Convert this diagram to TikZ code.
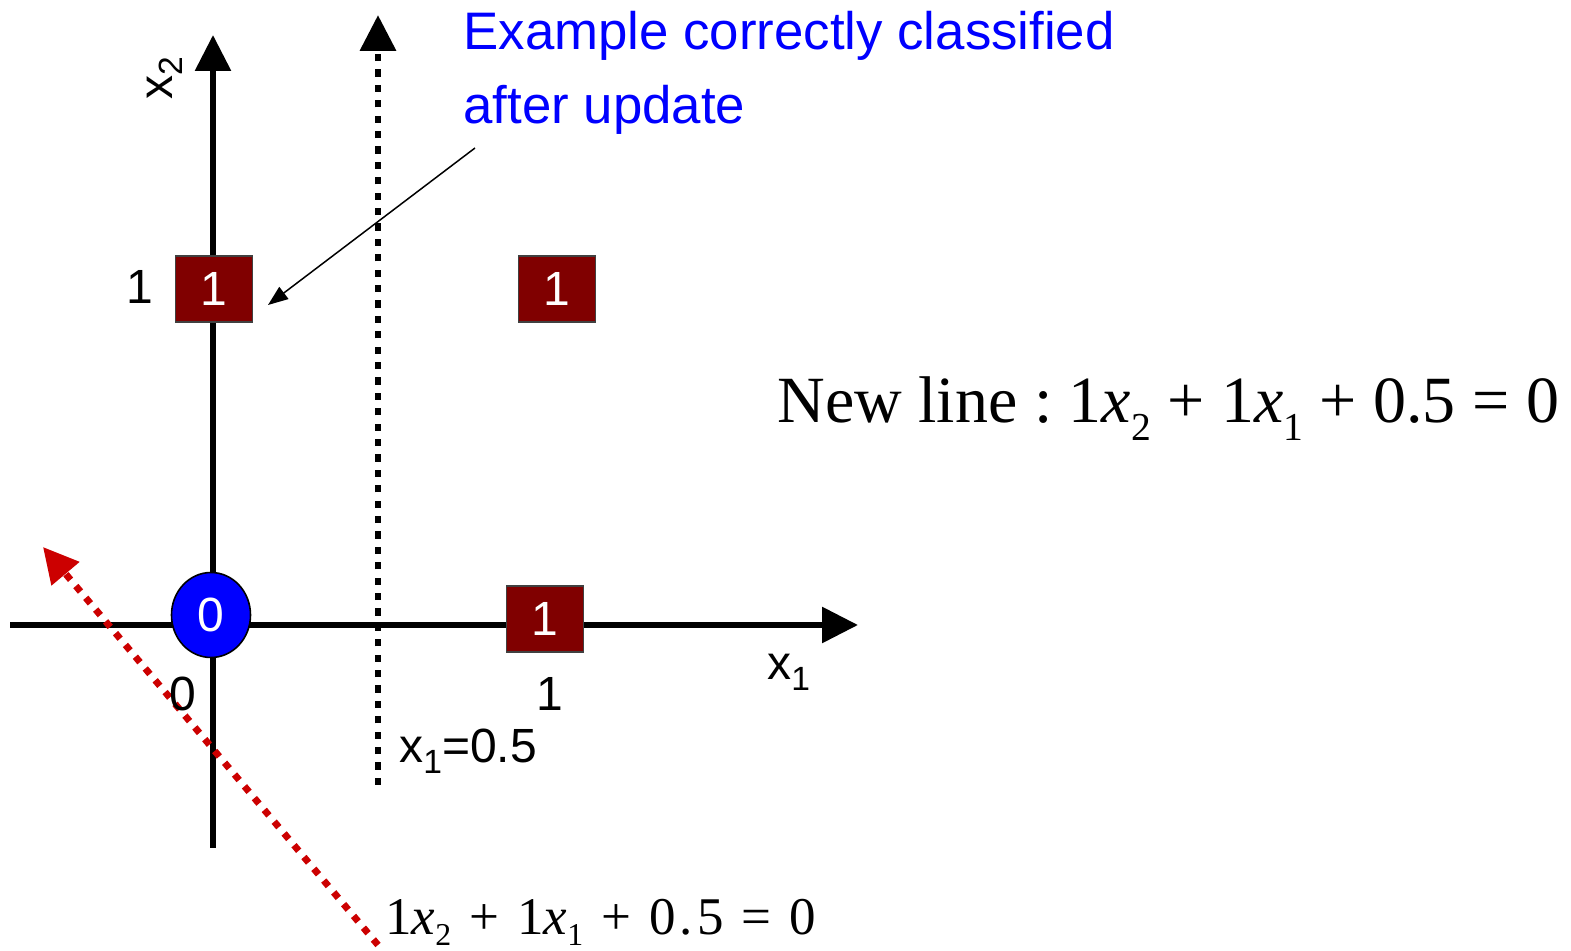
\documentclass[tikz,border=0pt]{standalone}
\usepackage{fontspec}
\usepackage{graphicx}
\setmainfont{Liberation Sans}
\newfontfamily\timesfont{Liberation Serif}
\usetikzlibrary{arrows.meta,shapes.geometric}
\definecolor{boxred}{HTML}{800000}
\definecolor{dotred}{HTML}{CC0000}
\definecolor{ptblue}{HTML}{0000FF}
\newcommand{\lsub}[1]{\raisebox{-0.22em}{\scalebox{0.7}{#1}}}
\newcommand{\tsub}[1]{\raisebox{-0.26em}{\scalebox{0.6}{#1}}}
\tikzset{
	bigtip/.style={-{Triangle[length=18pt,width=17.5pt]}},
	axis/.style={line width=3pt,bigtip},
	dotline/.style={line width=3.4pt,dash pattern=on 3.6pt off 4.1pt},
	sq/.style={draw=black!75,line width=0.7pt,fill=boxred,text=white,minimum width=38.5pt,minimum height=33pt,inner sep=0pt,font=\fontsize{24}{24}\selectfont},
	lbl/.style={inner sep=0pt,font=\fontsize{24}{24}\selectfont}
}
\begin{document}
\begin{tikzpicture}[x=0.5pt,y=-0.5pt]
	\useasboundingbox (0,0) rectangle (1571,951);
	
	% axes and the two lines
	\draw[axis] (10,625)--(858,625);
	\draw[axis] (213,848)--(213,35);
	\draw[dotline,bigtip] (378,785)--(378,15);
	\draw[dotline,dotred,-{Triangle[length=17.5pt,width=17.5pt]}] (378,945)--(43,547);
	
	% examples
	\node[sq] (p01) at (214,289) {1};
	\node[sq] (p11) at (557,289) {1};
	\node[sq] (p10) at (545,619) {1};
	\node[ellipse,draw,line width=0.8pt,fill=ptblue,text=white,minimum width=39.5pt,minimum height=42.5pt,inner sep=0pt,font=\fontsize{24}{24}\selectfont] (p00) at (211,615) {0};
	
	% axis labels
	\node[lbl] (tick2) at (140,287) {1};
	\node[lbl] (tick0) at (183,694) {0};
	\node[lbl] (tick1) at (550,694) {1};
	\node[lbl,anchor=base west] (lx1) at (767,680) {x\lsub{1}};
	\node[lbl,anchor=base west,rotate=90] (lx2) at (172,100) {x\lsub{2}};
	\node[lbl,anchor=base west] (lhalf) at (399,763) {x\lsub{1}=0.5};
	
	% note
	\node[inner sep=0pt,anchor=base west,text=ptblue,font=\fontsize{26.4}{26.4}\selectfont] (note1) at (463,50) {Example correctly classified};
	\node[inner sep=0pt,anchor=base west,text=ptblue,font=\fontsize{26.4}{26.4}\selectfont] (note2) at (463,124) {after update};
	\coordinate (from) at (475,148);
	\coordinate (to) at (268,305);
	\draw[line width=0.75pt,-{Triangle[length=10pt,width=7.5pt]}] (from)--(to);
	
	% equations
	\node[inner sep=0pt,anchor=base west,font=\timesfont\fontsize{33}{33}\selectfont] (neweq) at (777,423) {New line :~1\textit{x}\tsub{2} + 1\textit{x}\tsub{1} + 0.5 = 0};
	\node[inner sep=0pt,anchor=base west,font=\timesfont\fontsize{26.5}{26.5}\selectfont] (oldeq) at (385,935) {1\textit{x}\raisebox{-0.2em}{\scalebox{0.6}{2}}\hspace{0.34em}+\hspace{0.34em}1\textit{x}\raisebox{-0.2em}{\scalebox{0.6}{1}}\hspace{0.34em}+\hspace{0.34em}0\kern0.08em.\kern0.08em5\hspace{0.34em}=\hspace{0.34em}0};
\end{tikzpicture}
\end{document}
